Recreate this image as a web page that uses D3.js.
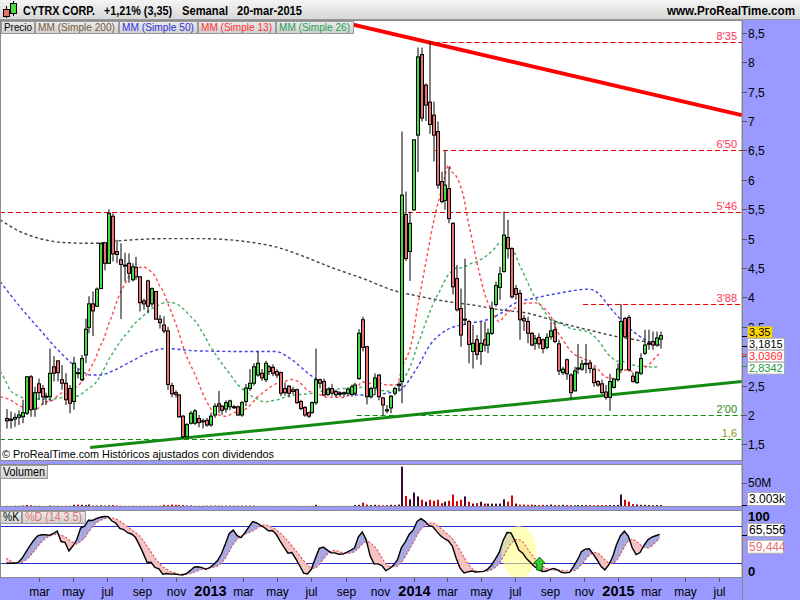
<!DOCTYPE html>
<html><head><meta charset="utf-8">
<script src="https://cdn.jsdelivr.net/npm/d3@7"></script>
<style>
body{margin:0;background:#fff;}
svg{display:block;font-family:"Liberation Sans",Arial,sans-serif;}
</style></head><body>
<svg id="c" width="800" height="600"></svg>
<script>
// ---------------- DATA ----------------
const firstWeek = "2012-01-02"; // weekly candles (Monday of each week)
const opens = [1.94,1.93,1.93,1.96,1.97,2.03,2.65,2.10,2.53,2.45,2.31,2.31,2.82,2.92,2.60,2.54,2.45,2.23,2.72,2.60,3.02,3.49,3.89,3.85,4.15,4.93,4.58,5.38,4.78,4.64,4.55,4.58,4.30,4.51,4.35,3.94,4.28,3.89,4.10,3.63,3.53,3.43,2.50,
 2.38,2.34,1.98,1.63,1.86,1.86,1.94,1.90,1.91,1.83,2.00,2.19,2.15,2.10,2.14,2.14,2.14,2.00,2.23,2.45,2.54,2.68,2.71,2.60,2.82,2.81,2.74,2.72,2.45,2.49,2.43,2.43,2.23,2.13,2.04,2.04,2.21,2.60,2.57,2.35,2.45,2.40,2.37,
 2.36,2.37,2.35,2.37,2.62,3.62,3.16,2.31,2.46,2.68,2.29,2.07,2.12,2.37,2.50,2.57,5.41,4.78,5.49,6.76,8.13,7.61,7.32,7.10,6.82,5.97,5.65,5.85,5.26,4.32,3.81,3.63,3.59,3.08,3.28,3.08,3.28,3.19,3.39,3.88,4.17,
 4.44,5.02,4.83,4.15,4.07,3.64,3.59,3.39,3.22,3.32,3.28,3.15,3.33,3.45,3.21,2.72,2.94,2.68,2.41,2.78,2.78,2.88,2.88,2.78,2.57,2.53,2.39,2.30,2.47,2.60,2.77,3.64,3.66,2.66,2.55,2.71,3.05,3.22,3.25,3.19,3.29];
const highs = [2.10,2.06,2.03,2.08,2.26,2.66,2.68,2.48,2.62,2.51,2.38,3.13,3.00,2.93,2.85,2.71,2.51,2.99,2.80,3.02,3.64,4.02,4.10,4.17,4.93,4.93,5.50,5.43,4.98,4.92,4.76,4.75,4.58,4.69,4.36,3.98,4.30,4.17,4.11,3.70,3.68,3.50,2.55,
 2.42,2.36,2.00,1.86,2.07,2.10,2.00,1.94,1.95,2.04,2.20,2.41,2.17,2.25,2.26,2.17,2.16,2.24,2.53,2.78,2.88,3.08,2.78,2.92,2.85,2.86,2.78,2.74,2.55,2.51,2.48,2.45,2.26,2.15,2.06,2.23,3.13,2.62,2.62,2.46,2.53,2.43,2.40,
 2.40,2.47,2.52,2.55,3.46,3.67,3.18,2.48,2.71,2.69,2.31,2.17,2.34,2.48,2.56,6.82,5.80,5.46,6.68,8.25,8.25,7.64,8.35,7.33,6.99,6.14,6.50,6.22,5.28,4.55,4.15,4.66,3.62,3.53,3.36,3.59,3.59,3.47,3.93,4.27,4.52,
 5.46,5.32,4.85,4.21,4.13,3.70,3.67,3.41,3.36,3.39,3.30,3.39,3.59,3.59,3.28,2.82,2.96,2.71,2.82,3.21,2.94,3.21,2.94,2.82,2.59,2.60,2.51,2.70,2.62,2.88,3.89,3.67,3.70,2.72,2.74,3.05,3.45,3.45,3.42,3.42,3.42];
const lows = [1.77,1.77,1.80,1.83,1.86,2.00,1.97,1.97,2.26,2.17,2.17,2.23,2.57,2.57,2.43,2.17,2.03,2.09,2.62,2.57,2.88,3.39,3.34,3.84,4.14,4.46,4.57,4.61,4.58,3.63,4.27,4.25,4.27,4.30,3.76,3.79,3.73,3.84,3.62,3.47,3.39,2.43,2.30,
 2.30,1.95,1.60,1.62,1.84,1.83,1.79,1.77,1.80,1.80,1.95,2.03,2.00,2.04,2.08,2.10,1.98,1.97,2.15,2.41,2.50,2.65,2.58,2.56,2.68,2.66,2.63,2.32,2.33,2.30,2.35,2.19,2.08,1.97,1.95,2.02,2.17,2.45,2.32,2.32,2.33,2.30,2.31,
 2.31,2.33,2.31,2.33,2.60,3.08,2.18,2.28,2.34,2.25,2.00,2.03,2.03,2.33,2.40,2.20,4.62,4.28,5.47,6.13,6.99,7.00,6.78,6.31,5.85,5.60,5.49,5.26,4.05,3.76,3.16,3.53,2.88,2.79,2.94,2.85,3.08,3.05,3.36,3.84,3.96,
 4.42,4.66,3.98,3.96,3.28,3.43,3.22,3.17,3.11,3.13,3.05,3.12,3.28,3.22,2.68,2.68,2.60,2.28,2.40,2.70,2.75,2.71,2.71,2.48,2.48,2.36,2.26,2.07,2.45,2.57,2.74,3.30,2.74,2.55,2.53,2.68,3.02,3.11,3.11,3.16,3.13];
const closes = [1.90,1.91,1.96,2.00,2.04,2.65,2.09,2.38,2.38,2.31,2.32,2.71,2.71,2.72,2.54,2.26,2.20,2.88,2.72,2.96,3.46,3.89,3.77,4.14,4.92,4.58,5.43,4.74,4.73,4.56,4.55,4.41,4.52,4.35,3.91,3.89,3.85,4.15,3.63,3.57,3.43,2.52,2.36,
 2.35,1.97,1.63,1.84,2.03,2.07,1.87,1.90,1.83,1.98,2.15,2.15,2.08,2.21,2.24,2.14,2.00,2.21,2.46,2.54,2.82,2.88,2.63,2.88,2.74,2.71,2.68,2.37,2.38,2.37,2.40,2.21,2.11,2.00,1.98,2.21,2.60,2.54,2.34,2.44,2.37,2.34,2.36,
 2.38,2.44,2.48,2.51,3.39,3.15,2.31,2.45,2.63,2.31,2.17,2.09,2.32,2.45,2.52,5.74,4.66,5.26,6.68,8.09,7.05,7.27,6.94,6.76,5.91,5.63,5.91,5.34,4.18,3.79,3.36,3.63,3.20,3.22,3.03,3.22,3.19,3.39,3.81,4.20,4.40,
 5.06,4.83,4.01,4.05,3.62,3.60,3.39,3.19,3.30,3.21,3.13,3.32,3.43,3.25,2.75,2.78,2.70,2.38,2.75,2.80,2.87,2.88,2.79,2.55,2.51,2.38,2.30,2.57,2.61,2.78,3.59,3.33,2.77,2.57,2.72,2.96,3.19,3.22,3.19,3.31,3.35];
// volume, millions of shares
const volumes = [1.5,1.2,1.5,1.5,2,3,2.5,1.5,1.5,1.2,1.2,2,1.5,1.5,1.2,1.5,1.5,3.5,4,3.5,3,4,2,2,2.5,2,2.5,3,2,
 1.5,1.5,1.5,1.5,1.5,1.5,1.5,1.5,1.5,1.5,1.5,3.5,3,4,3.5,3,3,2,2,1.5,1.5,1.5,1.8,1.8,1.8,1.8,1.8,1.8,1.8,1.8,1.8,1.8,1.8,1.8,1.8,
 1.2,1.2,1.2,1.2,1.2,1.2,1.2,1.2,1.2,1.2,1.2,1.2,1.2,1.2,1.2,3.5,1.2,1.2,1.2,1.2,1.2,1.2,1.2,1.2,1.2,
 3,3.5,8,4,3,3.5,3,2.5,3,3.5,3,4,
 83,22,15,29,21,14,10,14,12,14,7,10,12,25,11,14,21,10,6,7,10,6,6,6,6,6,15,10,23,6,
 4,4,3.5,4,3,3,3.5,3,4,3,3,3.5,3,3,2.5,3,3,3,3,2.5,3,3,3,3,3,3.5,25,14,10,5,4,3.5,3.5,3,3,3,3];
// moving averages (week index, value)
const sma200Idx = [-1.6,3.5,8.6,15.4,22.2,28.3,41.8,49.5,62.3,69.9,75.1,82.7,91.2,99.9,104,112.7,119.3,126.2,133.4,142,150.5,155.6,160.7,167];
const sma200Val = [5.32,5.12,5.00,4.93,4.92,4.96,5.00,5.00,4.94,4.84,4.72,4.52,4.32,4.10,4.04,3.93,3.87,3.79,3.73,3.56,3.42,3.34,3.28,3.20];
const sma50Idx = [-1.6,3.5,8.6,13.7,18.8,21.4,24,26.5,31.6,36.7,40.6,49,61.8,68.7,73,77.1,81.5,84,91.2,99.9,105,108.3,112.7,118.5,122.9,126.2,130,135.2,142,148.7,150.5,154.8,158.9,163.3,167];
const sma50Val = [4.27,3.84,3.45,3.07,2.77,2.68,2.68,2.73,2.90,3.07,3.13,3.09,3.08,3.08,2.94,2.71,2.51,2.40,2.34,2.40,2.80,3.19,3.45,3.56,3.62,3.72,3.90,3.99,4.08,4.14,4.11,3.79,3.50,3.28,3.18];
// start of the short averages (before a full window exists)
const sma13LeadIdx = [-1.6,0.9,3.5,6,8,9.4];
const sma13LeadVal = [2.31,2.26,2.15,2.11,2.11,2.20];
const sma26LeadIdx = [-1.6,-0.3,0.9,2.7,5.2,7.8,11.2,15.4,18,20.6,23.1];
const sma26LeadVal = [2.74,2.60,2.43,2.34,2.28,2.27,2.27,2.31,2.32,2.43,2.57];
// stochastic start (before a full window exists)
const kLead = [20,20,20,21,28,38,48,57,64,66,66,65,68,72,55];
const dLead = [28,24,21];
// horizontal levels
const levelValues = [8.35,6.50,5.46,3.88,2.00,1.6];
const levelLabels = ["8'35","6'50","5'46","3'88","2'00","1,6"];
const levelStart = ["2014-01-23","2014-02-07",null,"2014-10-30","2013-09-20",null];
// trend lines
const trendStart = ["2013-08-21","2012-05-31"];
const trendEnd = ["2015-08-10","2015-08-10"];
const trendV0 = [8.69,1.447];
const trendV1 = [7.10,2.57];
// last values shown on the axis
const lastPrice = 3.35, lastSma50 = 3.1815, lastSma13 = 3.0369, lastSma26 = 2.8342;
const lastVolLabel = "3.003k";
const lastK = 65.556, lastD = 59.444;
// annotations (week index, stochastic value)
const highlightIdx = 131, highlightVal = 38;
const arrowIdx = 136.3, arrowVal = 30;
const priceTicks = [1.5,2,2.5,3,3.5,4,4.5,5,5.5,6,6.5,7,7.5,8,8.5];
const monthNames = ["ene","feb","mar","abr","may","jun","jul","ago","sep","oct","nov","dic"];
const header = ["CYTRX CORP.","+1,21% (3,35)","Semanal","20-mar-2015"];
const legendNames = ["Precio","MM (Simple 200)","MM (Simple 50)","MM (Simple 13)","MM (Simple 26)"];

// ---------------- LAYOUT ----------------
const svg = d3.select("#c");
const R = 742;
const mainTop = 20, mainBot = 461, volTop = 464, volBot = 507, stTop = 510, stBot = 578;
const LAV = "#9999ff";
const DAY = 864e5;
const t0 = Date.parse(firstWeek + "T00:00:00Z");
const dateAt = i => new Date(t0 + i * 7 * DAY);
const pd = s => new Date(s + "T00:00:00Z");
const x = d3.scaleUtc().domain([new Date(Date.UTC(2012,2,1)), new Date(Date.UTC(2015,2,16))]).range([39.3, 659.6]);
const y = d3.scaleLinear().domain([1.5, 8.5]).range([444.4, 32.8]);
const yv = d3.scaleLinear().domain([0, 50]).range([506.5, 482.5]);
const ys = d3.scaleLinear().domain([0, 100]).range([575.7, 513.6]);
const N = closes.length;
const xi = i => x(dateAt(i));
const fmt = v => String(v).replace(".", ",");
const fitText = (sel, len) => sel.attr("textLength", len).attr("lengthAdjust", "spacingAndGlyphs");

svg.append("rect").attr("width", 800).attr("height", 600).attr("fill", LAV);
// header
const defs = svg.append("defs");
const hg = defs.append("linearGradient").attr("id", "hg").attr("x1", 0).attr("x2", 0).attr("y1", 0).attr("y2", 1);
hg.append("stop").attr("offset", 0).attr("stop-color", "#f4f4f4");
hg.append("stop").attr("offset", 1).attr("stop-color", "#d6d6d6");
const bg = defs.append("linearGradient").attr("id", "bg").attr("x1", 0).attr("x2", 0).attr("y1", 0).attr("y2", 1);
bg.append("stop").attr("offset", 0).attr("stop-color", "#ececec");
bg.append("stop").attr("offset", 1).attr("stop-color", "#cfcfcf");
svg.append("rect").attr("x", 0).attr("y", 0).attr("width", 800).attr("height", 20).attr("fill", "url(#hg)");
svg.append("line").attr("x1", 0).attr("x2", 800).attr("y1", 19.5).attr("y2", 19.5).attr("stroke", "#999");
// icon
svg.append("line").attr("x1", 6.5).attr("x2", 6.5).attr("y1", 6).attr("y2", 18).attr("stroke", "#000");
svg.append("rect").attr("x", 3.5).attr("y", 9.5).attr("width", 6).attr("height", 7).attr("fill", "#e87070").attr("stroke", "#000");
svg.append("line").attr("x1", 13.5).attr("x2", 13.5).attr("y1", 1).attr("y2", 16).attr("stroke", "#000");
svg.append("rect").attr("x", 10.5).attr("y", 3.5).attr("width", 6).attr("height", 10).attr("fill", "#44dd44").attr("stroke", "#000");
const hx = [23, 104, 182, 237], hw = [72, 68, 46, 65];
header.forEach((t, k) => fitText(svg.append("text").attr("x", hx[k]).attr("y", 15).attr("font-size", 12).attr("font-weight", "bold").text(t), hw[k]));
fitText(svg.append("text").attr("x", 667).attr("y", 15).attr("font-size", 12).attr("font-weight", "bold").text("www.ProRealTime.com"), 128);

// panels
[[mainTop, mainBot], [volTop, volBot], [stTop, stBot]].forEach(([a, b]) =>
  svg.append("rect").attr("x", 0.5).attr("y", a + 0.5).attr("width", R - 0.5).attr("height", b - a - 1).attr("fill", "#fff").attr("stroke", "#8a8a8a"));

const clip = (id, a, b) => defs.append("clipPath").attr("id", id).append("rect").attr("x", 1).attr("y", a + 1).attr("width", R - 1).attr("height", b - a - 2);
clip("cm", mainTop, mainBot); clip("cv", volTop, volBot); clip("cs", stTop, stBot);

// ---------------- MAIN ----------------
const gm = svg.append("g").attr("clip-path", "url(#cm)");
const levelLine = ["#ee0000","#ee0000","#ee0000","#ee0000","#118811","#118811"];
const levelText = ["#ff3355","#ff3355","#ff3355","#ff3355","#1a8c1a","#7f9c10"];
levelValues.forEach((v, k) => {
  const yy = Math.round(y(v)) + 0.5;
  const x0 = levelStart[k] ? x(pd(levelStart[k])) : 0;
  gm.append("line").attr("x1", x0).attr("x2", R).attr("y1", yy).attr("y2", yy)
    .attr("stroke", levelLine[k]).attr("stroke-dasharray", "5,3").attr("stroke-width", 1);
  gm.append("text").attr("x", 737).attr("y", yy - 3).attr("text-anchor", "end").attr("font-size", 11)
    .attr("fill", levelText[k]).text(levelLabels[k]);
});

// moving averages
const sma = (p, from) => d3.range(from, N).map(i => [i, d3.mean(closes.slice(i - p + 1, i + 1))]);
const s13 = sma13LeadIdx.map((d, k) => [d, sma13LeadVal[k]]).concat(sma(13, 12));
const s26 = sma26LeadIdx.map((d, k) => [d, sma26LeadVal[k]]).concat(sma(26, 25));
const s50 = sma50Idx.map((d, k) => [d, sma50Val[k]]);
const s200 = sma200Idx.map((d, k) => [d, sma200Val[k]]);
const maLine = d3.line().x(d => xi(d[0])).y(d => y(d[1])).curve(d3.curveMonotoneX);
[[s200, "#222222"], [s50, "#2020e8"], [s26, "#22a044"], [s13, "#ff2a2a"]].forEach(([s, c]) =>
  gm.append("path").attr("d", maLine(s)).attr("fill", "none").attr("stroke", c)
    .attr("stroke-width", 1.4).attr("stroke-dasharray", "3,2.6").attr("opacity", 0.85));

// trend lines
const trendColor = ["#ff0000", "#138a13"], trendWidth = [4, 3];
trendStart.forEach((s, k) => gm.append("line")
  .attr("x1", x(pd(s))).attr("y1", y(trendV0[k])).attr("x2", x(pd(trendEnd[k]))).attr("y2", y(trendV1[k]))
  .attr("stroke", trendColor[k]).attr("stroke-width", trendWidth[k]));

// candles
for (let i = 0; i < N; i++) {
  const cx = Math.round(xi(i));
  gm.append("line").attr("x1", cx + 1).attr("x2", cx + 1).attr("y1", y(highs[i])).attr("y2", y(lows[i]))
    .attr("stroke", "#000").attr("stroke-width", 1);
  const up = closes[i] >= opens[i];
  const top = y(Math.max(opens[i], closes[i])), bot = y(Math.min(opens[i], closes[i]));
  gm.append("rect").attr("x", cx - 0.5).attr("y", top).attr("width", 3).attr("height", Math.max(bot - top, 1))
    .attr("fill", up ? "#44dd44" : "#e87272").attr("stroke", "#000").attr("stroke-width", 1);
}

// legend buttons
const btn = (g, x0, y0, w, h, t, c, fs, tl) => {
  g.append("rect").attr("x", x0 + 0.5).attr("y", y0 + 0.5).attr("width", w).attr("height", h)
    .attr("fill", "url(#bg)").attr("stroke", "#9a9a9a");
  const tx = g.append("text").attr("x", x0 + 3).attr("y", y0 + h - 2.5).attr("font-size", fs || 11).attr("fill", c).text(t);
  if (tl) fitText(tx, tl);
};
const lgX = [1, 35, 119, 198, 276], lgW = [33, 83, 78, 77, 77], lgT = [28, 77, 72, 71, 71];
const lgC = ["#000", "#7a5a3c", "#3030dd", "#ff3030", "#22a050"];
legendNames.forEach((t, k) => btn(svg, lgX[k], 21, lgW[k], 12, t, lgC[k], 11, lgT[k]));
fitText(svg.append("text").attr("x", 2).attr("y", 458).attr("font-size", 11.5).text("© ProRealTime.com  Históricos ajustados con dividendos"), 272);

// ---------------- VOLUME ----------------
const gv = svg.append("g").attr("clip-path", "url(#cv)");
volumes.forEach((v, i) => {
  const cx = Math.round(xi(i));
  const up = i === 0 ? closes[0] >= opens[0] : closes[i] >= closes[i - 1];
  gv.append("rect").attr("x", cx).attr("y", yv(v)).attr("width", 2).attr("height", yv(0) - yv(v))
    .attr("fill", up ? "#3a0834" : "#dd0000");
});
btn(svg, 0, 465, 47, 13, "Volumen", "#000", 12, 42);

// ---------------- STOCHASTIC ----------------
const raw = closes.map((c, i) => {
  const a = Math.max(0, i - 13);
  const hh = d3.max(highs.slice(a, i + 1)), ll = d3.min(lows.slice(a, i + 1));
  return hh > ll ? (c - ll) / (hh - ll) * 100 : 50;
});
const kCalc = raw.map((r, i) => d3.mean(raw.slice(Math.max(0, i - 2), i + 1)));
const K = kCalc.map((v, i) => i < kLead.length ? kLead[i] : v);
const D = K.map((v, i) => i < dLead.length ? dLead[i] : d3.mean(K.slice(Math.max(0, i - 4), i + 1)));
const gs = svg.append("g").attr("clip-path", "url(#cs)");
[80, 20].forEach(v => gs.append("line").attr("x1", 0).attr("x2", R).attr("y1", Math.round(ys(v)) + 0.5).attr("y2", Math.round(ys(v)) + 0.5)
  .attr("stroke", "#2a2ad0").attr("stroke-width", 1));
const BLUE = "#a6a6e0", PINK = "#f6c2c2";
for (let i = 0; i < N - 1; i++) {
  const xa = xi(i), xb = xi(i + 1);
  const da = K[i] - D[i], db = K[i + 1] - D[i + 1];
  const P = (xx, v) => [xx, ys(v)];
  const poly = (pts, c) => gs.append("path").attr("d", "M" + pts.map(p => p.join(",")).join("L") + "Z").attr("fill", c).attr("stroke", c).attr("stroke-width", 0.4);
  if (da * db >= 0) {
    poly([P(xa, K[i]), P(xb, K[i + 1]), P(xb, D[i + 1]), P(xa, D[i])], (da + db) >= 0 ? BLUE : PINK);
  } else {
    const t = da / (da - db);
    const xc = xa + t * (xb - xa), vc = K[i] + t * (K[i + 1] - K[i]);
    poly([P(xa, K[i]), P(xc, vc), P(xa, D[i])], da > 0 ? BLUE : PINK);
    poly([P(xc, vc), P(xb, K[i + 1]), P(xb, D[i + 1])], db > 0 ? BLUE : PINK);
  }
}
gs.append("ellipse").attr("cx", xi(highlightIdx)).attr("cy", ys(highlightVal)).attr("rx", 17.5).attr("ry", 26)
  .attr("fill", "#ffff88").attr("opacity", 0.6);
const sl = d3.line().x((d, i) => xi(i)).y(d => ys(d));
gs.append("path").attr("d", sl(D)).attr("fill", "none").attr("stroke", "#e05a5a").attr("stroke-width", 1.2).attr("stroke-dasharray", "2,2");
gs.append("path").attr("d", sl(K)).attr("fill", "none").attr("stroke", "#000").attr("stroke-width", 1.4);
{
  const ax = xi(arrowIdx), ay = ys(arrowVal);
  const pts = [[0,0],[6,6.5],[2.8,6.5],[2.8,13],[-2.8,13],[-2.8,6.5],[-6,6.5]];
  gs.append("path").attr("d", "M" + pts.map(p => [ax + p[0], ay + p[1]].join(",")).join("L") + "Z")
    .attr("fill", "#33cc33").attr("stroke", "#0a6a0a").attr("stroke-width", 1);
}
btn(svg, 0, 511, 21, 12, "%K", "#000", 12, 16);
btn(svg, 22, 511, 63, 12, "%D (14 3 5)", "#e27070", 12, 57);

// ---------------- RIGHT AXIS ----------------
svg.append("line").attr("x1", R + 0.5).attr("x2", R + 0.5).attr("y1", 20).attr("y2", 600).attr("stroke", "#888");
const ra = svg.append("g");
// stacked value boxes, pushed apart so they do not cover each other
const boxVals = [lastPrice, lastSma50, lastSma13, lastSma26];
const boxY = [];
boxVals.forEach((v, k) => { let c = y(v) - 3.5; if (k > 0 && c < boxY[k - 1] + 12) c = boxY[k - 1] + 12; boxY.push(c); });
const boxTop = boxY[0] - 6, boxBot = boxY[boxY.length - 1] + 6;
priceTicks.forEach(v => {
  const yy = Math.round(y(v)) + 0.5;
  ra.append("line").attr("x1", R).attr("x2", R + 5).attr("y1", yy).attr("y2", yy).attr("stroke", "#555");
  // labels fully covered by the value boxes are not drawn (as in the original)
  if (yy > boxTop + 4 && yy < boxBot) return;
  ra.append("text").attr("x", 748).attr("y", yy).attr("dy", "0.36em").attr("font-size", 12).text(fmt(v));
});
const valBox = (v, yc, w, txt, tc, fill) => {
  ra.append("line").attr("x1", R).attr("x2", R + 5).attr("y1", Math.round(y(v)) + 0.5).attr("y2", Math.round(y(v)) + 0.5).attr("stroke", tc);
  ra.append("rect").attr("x", 747.5).attr("y", yc - 6).attr("width", w).attr("height", 12).attr("fill", fill).attr("stroke", "#aaa");
  ra.append("text").attr("x", 749).attr("y", yc).attr("dy", "0.35em").attr("font-size", 11).attr("fill", tc).text(txt);
};
valBox(lastSma50, boxY[1], 37, fmt(lastSma50), "#000", "#fff");
valBox(lastPrice, boxY[0], 25, fmt(lastPrice), "#000", "#ffd700");
valBox(lastSma13, boxY[2], 37, fmt(lastSma13), "#ff2a2a", "#fff");
valBox(lastSma26, boxY[3], 37, fmt(lastSma26), "#1a9a3a", "#fff");
// volume axis
ra.append("line").attr("x1", R).attr("x2", R + 5).attr("y1", Math.round(yv(50)) + 0.5).attr("y2", Math.round(yv(50)) + 0.5).attr("stroke", "#555");
ra.append("text").attr("x", 748).attr("y", yv(50)).attr("dy", "0.36em").attr("font-size", 12).text("50M");
ra.append("line").attr("x1", R).attr("x2", R + 5).attr("y1", yv(volumes[N - 1]) + 0.5).attr("y2", yv(volumes[N - 1]) + 0.5).attr("stroke", "#000");
ra.append("rect").attr("x", 747.5).attr("y", 492.5).attr("width", 38).attr("height", 13).attr("fill", "#fff").attr("stroke", "#aaa");
ra.append("text").attr("x", 749).attr("y", 499).attr("dy", "0.36em").attr("font-size", 12).text(lastVolLabel);
// stochastic axis
ra.append("text").attr("x", 748).attr("y", ys(100) + 2.5).attr("dy", "0.36em").attr("font-size", 13).attr("font-weight", "bold").text("100");
ra.append("text").attr("x", 748).attr("y", ys(0) - 4).attr("dy", "0.36em").attr("font-size", 13).attr("font-weight", "bold").text("0");
const sBox = (v, yc, tc) => {
  ra.append("line").attr("x1", R).attr("x2", R + 5).attr("y1", Math.round(ys(v)) + 0.5).attr("y2", Math.round(ys(v)) + 0.5).attr("stroke", tc);
  ra.append("rect").attr("x", 747.5).attr("y", yc - 6.5).attr("width", 36).attr("height", 13).attr("fill", "#fff").attr("stroke", "#aaa");
  ra.append("text").attr("x", 749).attr("y", yc).attr("dy", "0.36em").attr("font-size", 12).attr("fill", tc).text(fmt(v));
};
sBox(lastK, ys(lastK) - 5, "#000");
sBox(lastD, ys(lastD) + 8, "#e27070");

// ---------------- X AXIS ----------------
const ticks = d3.utcMonth.range(new Date(Date.UTC(2012,2,1)), new Date(Date.UTC(2015,7,1)), 2);
const xa = svg.append("g");
ticks.forEach(t => {
  const xx = Math.round(x(t)) + 0.5;
  if (xx > R) return;
  const isYear = t.getUTCMonth() === 0;
  xa.append("line").attr("x1", xx).attr("x2", xx).attr("y1", stBot).attr("y2", stBot + 4).attr("stroke", "#555");
  xa.append("text").attr("x", xx).attr("y", 596).attr("text-anchor", "middle")
    .attr("font-size", isYear ? 14.5 : 12).attr("font-weight", isYear ? "bold" : "normal")
    .text(isYear ? t.getUTCFullYear() : monthNames[t.getUTCMonth()]);
});
</script>
</body></html>
